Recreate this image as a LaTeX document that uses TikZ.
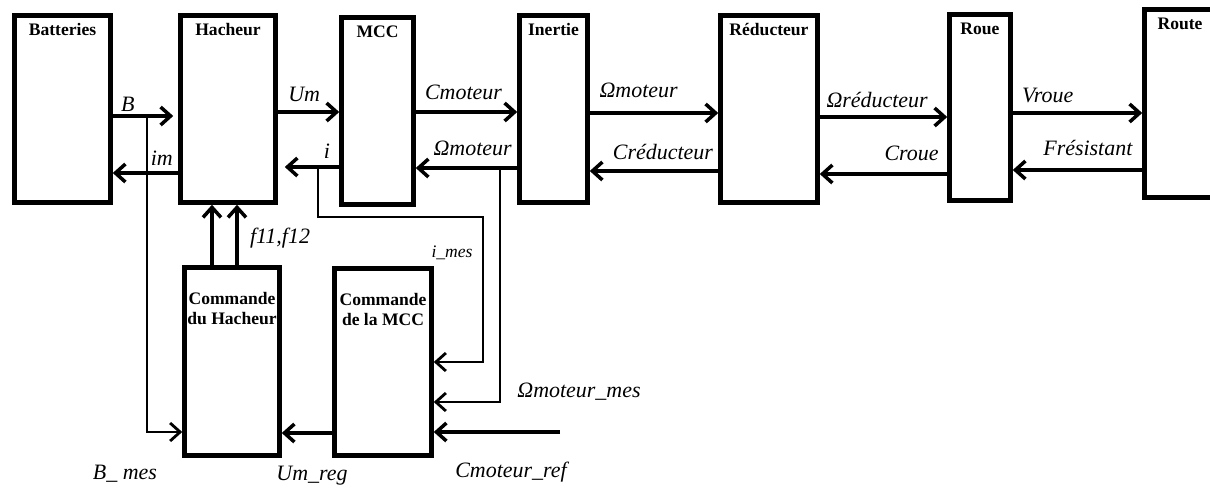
\documentclass[tikz,border=0pt]{standalone}
\usepackage{fontspec}
\setmainfont{Liberation Serif}
\usetikzlibrary{arrows.meta}
\usetikzlibrary{positioning}

\tikzset{
	bloc/.style={draw, line width=2.6pt, inner sep=0pt, minimum height=3.74cm},
	titre/.style={font=\bfseries\fontsize{10}{11.5}\selectfont, inner sep=0pt, anchor=north, align=center},
	lab/.style={font=\itshape\fontsize{12.5}{14}\selectfont, inner sep=0pt},
	fleche/.style={->, line width=2pt},
	fil/.style={->, line width=1.6pt},
}

\begin{document}
\begin{tikzpicture}[x=0.02cm, y=-0.02cm, >={Straight Barb[length=0.2cm,width=0.36cm]}]
			\useasboundingbox (0,0) rectangle (1210,491);
			\clip (0,0) rectangle (1210,491);
			% chaine de traction
			\node[bloc, minimum width=1.92cm] (bat) at (62.5,109) {};
			\node[bloc, minimum width=1.9cm] (hach) at (228,109) {};
			\node[bloc, minimum width=1.44cm] (mcc) at (377.5,111) {};
			\node[bloc, minimum width=1.36cm] (inert) at (553.5,109) {};
			\node[bloc, minimum width=1.94cm] (red) at (769,109) {};
			\node[bloc, minimum width=1.22cm, minimum height=3.72cm] (roue) at (980,107.5) {};
			\node[bloc, minimum width=1.42cm, minimum height=3.76cm] (route) at (1180,103.5) {};
			\node[titre] (tbat) at ([yshift=-0.2cm]bat.north) {Batteries};
			\node[titre] (thach) at ([yshift=-0.2cm]hach.north) {Hacheur};
			\node[titre] (tmcc) at ([yshift=-0.2cm]mcc.north) {MCC};
			\node[titre] (tinert) at ([yshift=-0.2cm]inert.north) {Inertie};
			\node[titre] (tred) at ([yshift=-0.2cm]red.north) {Réducteur};
			\node[titre] (troue) at ([yshift=-0.2cm]roue.north) {Roue};
			\node[titre] (troute) at ([yshift=-0.2cm]route.north) {Route};
			% commandes
			\node[bloc, minimum width=1.9cm, minimum height=3.76cm] (cmdh) at (232,361.5) {};
			\node[bloc, minimum width=1.94cm] (cmdm) at (383,362) {};
			\node[titre] (tcmdh) at ([yshift=-0.54cm]cmdh.north) {Commande\\du Hacheur};
			\node[titre] (tcmdm) at ([yshift=-0.54cm]cmdm.north) {Commande\\de la MCC};
			% grandeurs
			\draw[fleche, shorten >=0.1cm] (bat.east |- 0,116) -- (hach.west |- 0,116)
			node[lab, above=0.06cm, pos=0.23] (lB) {B};
			\draw[fleche] (hach.west |- 0,173) -- (bat.east |- 0,173)
			node[lab, above=0.12cm, pos=0.25] (lim) {im};
			\draw[fleche] (hach.east |- 0,112) -- (mcc.west |- 0,112)
			node[lab, above=0.18cm, pos=0.43] (lUm) {Um};
			\draw[fleche, shorten >=0.14cm] (mcc.west |- 0,167) -- (hach.east |- 0,167)
			node[lab, above=0.14cm, pos=0.2] (li) {i};
			\draw[fleche] (mcc.east |- 0,112) -- (inert.west |- 0,112)
			node[lab, above=0.2cm, pos=0.47] (lCm) {Cmoteur};
			\draw[fleche] (inert.west |- 0,168) -- (mcc.east |- 0,168)
			node[lab, above=0.2cm, pos=0.44] (lOm) {Ωmoteur};
			\draw[fleche] (inert.east |- 0,113) -- (red.west |- 0,113)
			node[lab, above=0.26cm, pos=0.38] (lOm2) {Ωmoteur};
			\draw[fleche] (red.west |- 0,171) -- (inert.east |- 0,171)
			node[lab, above=0.18cm, pos=0.43] (lCr) {Créducteur};
			\draw[fleche] (red.east |- 0,117) -- (roue.west |- 0,117)
			node[lab, above=0.14cm, pos=0.45] (lOr) {Ωréducteur};
			\draw[fleche] (roue.west |- 0,174) -- (red.east |- 0,174)
			node[lab, above=0.22cm, pos=0.28] (lCro) {Croue};
			\draw[fleche] (roue.east |- 0,113) -- (route.west |- 0,113)
			node[lab, above=0.16cm, pos=0.27] (lV) {Vroue};
			\draw[fleche] (route.west |- 0,170) -- (roue.east |- 0,170)
			node[lab, above=0.26cm, pos=0.42] (lF) {Frésistant};
			% mesures et consignes
			\coordinate (pB) at (147,116);
			\coordinate (pi) at (318,167);
			\coordinate (ci) at (483,217);
			\coordinate (pO) at (500,168);
			\coordinate (cref) at (560,432);
			\draw[fleche] (cmdh.north -| 212,0) -- (hach.south -| 212,0);
			\draw[fleche] (cmdh.north -| 237,0) -- (hach.south -| 237,0);
			\draw[fil] (pB) |- (cmdh.west |- 0,432);
			\draw[fil] (pi) |- (ci) |- (cmdm.east |- 0,362);
			\draw[fil] (pO) |- (cmdm.east |- 0,402);
			\draw[fleche] (cref) -- (cmdm.east |- 0,432);
			\draw[fleche] (cmdm.west |- 0,433) -- (cmdh.east |- 0,433);
			\node[lab] (lf) at (280,238) {f11,f12};
			\node[lab, font=\itshape\fontsize{10}{12}\selectfont] (limes) at (452,253) {i\_mes};
			\node[lab] (lOmes) at (579,392) {Ωmoteur\_mes};
			\node[lab] (lCref) at (511,472) {Cmoteur\_ref};
			\node[lab] (lUreg) at (312,476) {Um\_reg};
			\node[lab] (lBmes) at (125,474) {B\_ mes};
		\end{tikzpicture}
\end{document}
